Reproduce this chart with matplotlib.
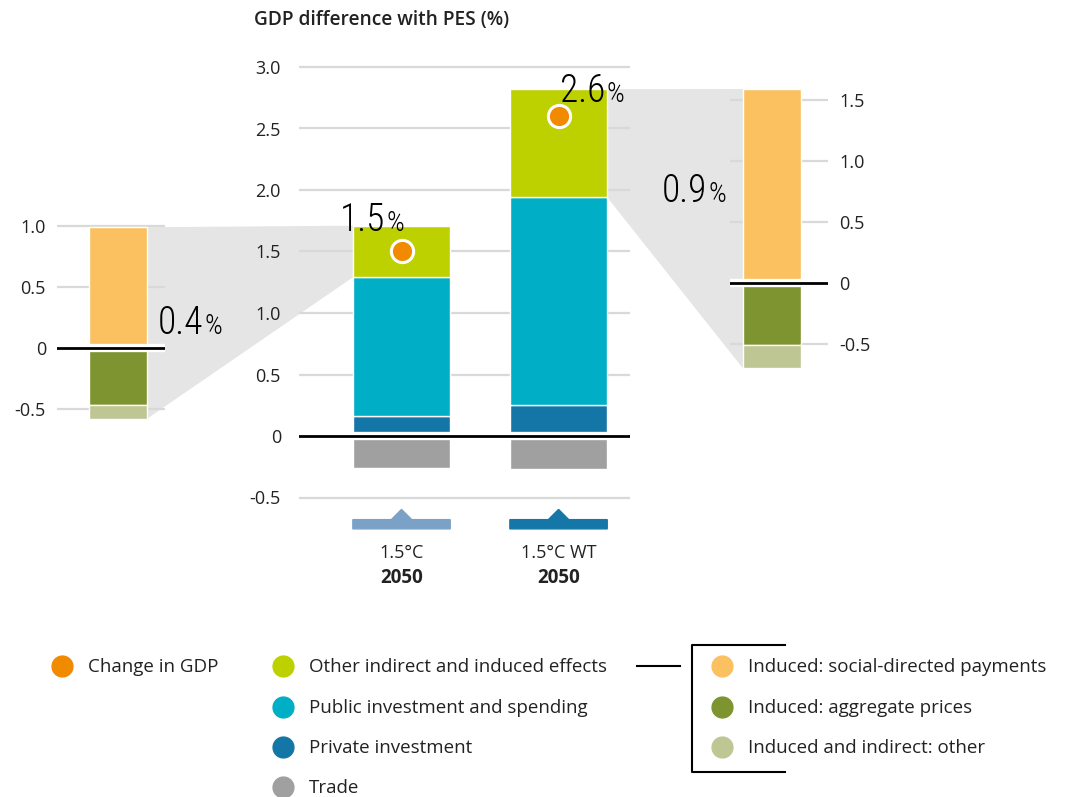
import matplotlib
matplotlib.use("Agg")
import matplotlib.pyplot as plt
import matplotlib.patheffects as pe
from matplotlib import font_manager
from matplotlib.patches import Polygon
from matplotlib.ticker import FixedLocator, FuncFormatter

W, H = 1065, 797

# GDP difference with PES (%), by driver
scenarios = ["1.5°C", "1.5°C WT"]
years = ["2050", "2050"]
private_inv = [0.16, 0.25]
public_inv = [1.13, 1.69]
other_effects = [0.42, 0.88]
trade = [-0.26, -0.27]
gdp_change = [1.5, 2.6]

# split of "other indirect and induced effects"
social_payments = [0.99, 1.59]
aggregate_prices = [-0.47, -0.51]
other_induced = [-0.11, -0.19]

main_ticks = [-0.5, 0, 0.5, 1.0, 1.5, 2.0, 2.5, 3.0]
left_ticks = [-0.5, 0, 0.5, 1.0]
right_ticks = [-0.5, 0, 0.5, 1.0, 1.5]

C_GDP = "#F28A00"
C_OTHER = "#BDD000"
C_PUBLIC = "#00AEC6"
C_PRIVATE = "#1476A6"
C_TRADE = "#A0A0A0"
C_SOCIAL = "#FBC160"
C_PRICES = "#7E9430"
C_INDIRECT = "#BEC793"
C_ZOOM = "#E5E5E5"
C_GRID = "#D9D9D9"
C_TEXT = "#222222"


def pick_family(cands, default):
    names = {f.name for f in font_manager.fontManager.ttflist}
    for c in cands:
        if c in names:
            return c
    return default


BASE = pick_family(["Open Sans", "Lato"], "DejaVu Sans")
NARROW = pick_family(["Roboto Condensed", "Liberation Sans Narrow", "Noto Sans Condensed",
                      "Open Sans Condensed", "DejaVu Sans Condensed"], "Roboto")
NARROW_SIZE = 27 if NARROW != "Roboto" else 24
plt.rcParams["font.family"] = [BASE, "DejaVu Sans"]

fig = plt.figure(figsize=(W / 100, H / 100), dpi=100)


def add_axes_px(x0, x1, zero_px, lo, hi, scale):
    ytop = zero_px - scale * hi
    ybot = zero_px - scale * lo
    ax = fig.add_axes([x0 / W, 1 - ybot / H, (x1 - x0) / W, (ybot - ytop) / H])
    ax.set_ylim(lo, hi)
    ax.set_facecolor("none")
    for s in ax.spines.values():
        s.set_visible(False)
    ax.set_xticks([])
    return ax


def tick_fmt(v, pos):
    return "0" if abs(v) < 1e-9 else f"{v:.1f}"


def style_yaxis(ax, ticks, pad, right=False):
    ax.yaxis.set_major_locator(FixedLocator(ticks))
    ax.yaxis.set_major_formatter(FuncFormatter(tick_fmt))
    if right:
        ax.yaxis.tick_right()
    ax.tick_params(axis="y", length=0, pad=pad, labelsize=13, labelcolor=C_TEXT)
    for t in ticks:
        if t != 0:
            ax.axhline(t, color=C_GRID, lw=1.6, zorder=0)
    ax.axhline(0, color="black", lw=2, zorder=5,
               path_effects=[pe.Stroke(linewidth=6, foreground="white"), pe.Normal()])


# background layer in pixel units for the zoom wedges and the legend
bg = fig.add_axes([0, 0, 1, 1], zorder=-1)
bg.set_xlim(0, W)
bg.set_ylim(H, 0)
bg.axis("off")

# main stacked bars
ax = add_axes_px(299, 630, 436, -0.8, 3.05, 123)
ax.set_xlim(-0.653, 1.455)
style_yaxis(ax, main_ticks, 13)
xs = [0, 1]
bw = 0.62
bar_kw = dict(width=bw, edgecolor="white", linewidth=1, zorder=2)
ax.bar(xs, private_inv, color=C_PRIVATE, **bar_kw)
pub_base = private_inv
ax.bar(xs, public_inv, bottom=pub_base, color=C_PUBLIC, **bar_kw)
oth_base = [a + b for a, b in zip(private_inv, public_inv)]
ax.bar(xs, other_effects, bottom=oth_base, color=C_OTHER, **bar_kw)
oth_top = [a + b for a, b in zip(oth_base, other_effects)]
ax.bar(xs, trade, color=C_TRADE, **bar_kw)
ax.plot(xs, gdp_change, "o", ms=16, mfc=C_GDP, mec="white", mew=2.2, zorder=6)

# scenario markers and labels under the bars
for x, col in zip(xs, ["#7BA1C7", "#1577A7"]):
    l, r = x - bw / 2, x + bw / 2
    hw = 0.065
    shape = [(l, -0.755), (r, -0.755), (r, -0.68), (x + hw, -0.68), (x, -0.597),
             (x - hw, -0.68), (l, -0.68)]
    ax.add_patch(Polygon(shape, closed=True, color=col, clip_on=False, zorder=2))
for x, sc, yr in zip(xs, scenarios, years):
    ax.text(x, -0.95, sc, ha="center", va="center", fontsize=13, color=C_TEXT, clip_on=False)
    ax.text(x, -1.155, yr, ha="center", va="center", fontsize=13.5, fontweight="bold",
            color=C_TEXT, clip_on=False)

# left breakdown (1.5°C)
axl = add_axes_px(57, 165, 348, -0.7, 1.1, 122)
axl.set_xlim(-1.05, 0.81)
style_yaxis(axl, left_ticks, 8)
sb_kw = dict(width=1, edgecolor="white", linewidth=1, zorder=2)
axl.bar(0, social_payments[0], color=C_SOCIAL, **sb_kw)
axl.bar(0, aggregate_prices[0], color=C_PRICES, **sb_kw)
axl.bar(0, other_induced[0], bottom=aggregate_prices[0], color=C_INDIRECT, **sb_kw)

# right breakdown (1.5°C WT)
axr = add_axes_px(730, 828, 283, -0.8, 1.7, 122)
axr.set_xlim(-0.724, 0.966)
style_yaxis(axr, right_ticks, 8, right=True)
axr.bar(0, social_payments[1], color=C_SOCIAL, **sb_kw)
axr.bar(0, aggregate_prices[1], color=C_PRICES, **sb_kw)
axr.bar(0, other_induced[1], bottom=aggregate_prices[1], color=C_INDIRECT, **sb_kw)


def to_bg(a, x, y):
    return bg.transData.inverted().transform(a.transData.transform((x, y)))


# zoom wedges linking each "other" segment with its breakdown
low_l = aggregate_prices[0] + other_induced[0]
wedge_l = [to_bg(axl, 0.5, social_payments[0]), to_bg(ax, -bw / 2, oth_top[0]),
           to_bg(ax, -bw / 2, oth_base[0]), to_bg(axl, 0.5, low_l)]
bg.add_patch(Polygon(wedge_l, closed=True, color=C_ZOOM, lw=0))
low_r = aggregate_prices[1] + other_induced[1]
wedge_r = [to_bg(ax, 1 + bw / 2, oth_top[1]), to_bg(axr, -0.5, social_payments[1]),
           to_bg(axr, -0.5, low_r), to_bg(ax, 1 + bw / 2, oth_base[1])]
bg.add_patch(Polygon(wedge_r, closed=True, color=C_ZOOM, lw=0))


def pct_label(x_px, y_px, val):
    # figure-level text so the labels sit above the bars
    fig.text(x_px, y_px, f"{val:.1f}", ha="right", va="baseline", fontsize=NARROW_SIZE,
             family=NARROW, fontweight="light", color="black", transform=bg.transData)
    fig.text(x_px + 1, y_px, "%", ha="left", va="baseline", fontsize=20,
             family=NARROW, fontweight="light", color="black", transform=bg.transData)


pct_label(385, 231, gdp_change[0])
pct_label(605, 102, gdp_change[1])
pct_label(203, 334, other_effects[0])
pct_label(707, 202, other_effects[1])

fig.text(254 / W, 1 - 20 / H, "GDP difference with PES (%)", ha="left", va="center",
         fontsize=13.8, fontweight="semibold", color=C_TEXT)

# legend
legend_items = [
    (62, 666, C_GDP, "Change in GDP"),
    (283, 666, C_OTHER, "Other indirect and induced effects"),
    (283, 707, C_PUBLIC, "Public investment and spending"),
    (283, 747, C_PRIVATE, "Private investment"),
    (283, 787, C_TRADE, "Trade"),
    (722, 666, C_SOCIAL, "Induced: social-directed payments"),
    (722, 707, C_PRICES, "Induced: aggregate prices"),
    (722, 747, C_INDIRECT, "Induced and indirect: other"),
]
for x, y, col, lab in legend_items:
    bg.plot(x, y, "o", ms=15, color=col, clip_on=False)
    bg.text(x + 26, y + 1, lab, ha="left", va="center", fontsize=13.5, color=C_TEXT)
bg.plot([637, 680], [666, 666], color="black", lw=1.5)
bg.plot([785, 692, 692, 785], [645, 645, 772, 772], color="black", lw=1.5)

fig.savefig("out.png", dpi=100)
